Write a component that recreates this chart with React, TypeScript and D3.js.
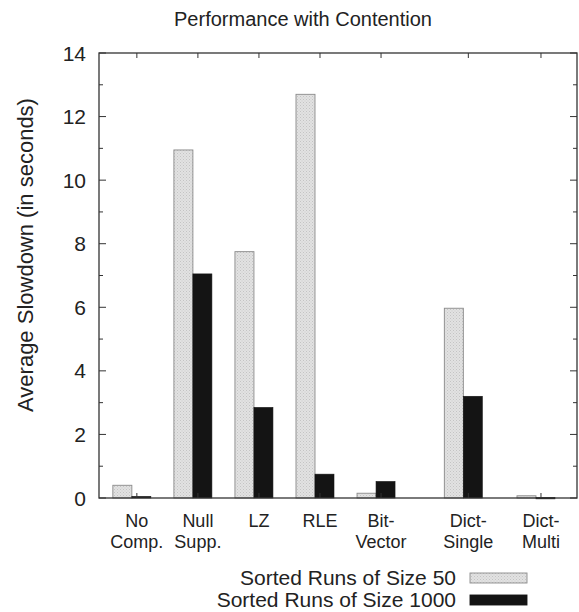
import React from "react";
import * as d3 from "d3";

const categories: string[][] = [
  ["No", "Comp."],
  ["Null", "Supp."],
  ["LZ"],
  ["RLE"],
  ["Bit-", "Vector"],
  ["Dict-", "Single"],
  ["Dict-", "Multi"],
];
const categoryPositions = [0, 1, 2, 3, 4, 5.43, 6.62];
const size50 = [0.4, 10.95, 7.75, 12.7, 0.15, 5.97, 0.07];
const size1000 = [0.05, 7.05, 2.85, 0.75, 0.52, 3.2, 0.02];
const seriesNames = ["Sorted Runs of Size 50", "Sorted Runs of Size 1000"];
const yTicks = [0, 2, 4, 6, 8, 10, 12, 14];
const yMinorTicks = d3.range(0, 15, 1);

const W = 579;
const H = 612;
const left = 99, right = 577, top = 53, bottom = 498;
const font = "'Liberation Sans', Arial, Helvetica, sans-serif";

export default function App() {
  const x = d3.scaleLinear().domain([-0.62, 7.21]).range([left, right]);
  const y = d3.scaleLinear().domain([0, 14]).range([bottom, top]);
  const bw = 19;
  const shift = -5;

  return (
    <svg width={W} height={H} style={{ position: "absolute", left: 0, top: 0, background: "#fff" }}>
      <defs>
        <pattern id="stip" width="3" height="3" patternUnits="userSpaceOnUse">
          <rect width="3" height="3" fill="#e2e2e2" />
          <rect x="0" y="0" width="1" height="1" fill="#c4c4c4" />
          <rect x="1.5" y="1.5" width="1" height="1" fill="#cdcdcd" />
        </pattern>
      </defs>
      <text x={303} y={26} textAnchor="middle" fontFamily={font} fontSize={20} fill="#222">
        Performance with Contention
      </text>
      {/* bars */}
      {categoryPositions.map((p, i) => {
        const c = x(p) + shift;
        return (
          <g key={i}>
            <rect x={c - bw} y={y(size50[i])} width={bw} height={y(0) - y(size50[i])}
              fill="url(#stip)" stroke="#8a8a8a" strokeWidth={0.9} />
            <rect x={c} y={y(size1000[i])} width={bw} height={Math.max(1.5, y(0) - y(size1000[i]))}
              fill="#141414" stroke="#141414" strokeWidth={0.6} />
          </g>
        );
      })}
      {/* frame */}
      <rect x={left} y={top} width={right - left} height={bottom - top} fill="none" stroke="#333" strokeWidth={1.3} />
      {/* y ticks */}
      {yMinorTicks.map((t) => {
        const len = t % 2 === 0 ? 7 : 4;
        return (
          <g key={t}>
            <line x1={left} x2={left + len} y1={y(t)} y2={y(t)} stroke="#333" strokeWidth={1} />
            <line x1={right} x2={right - len} y1={y(t)} y2={y(t)} stroke="#333" strokeWidth={1} />
          </g>
        );
      })}
      {yTicks.map((t) => (
        <text key={t} x={86} y={y(t) + 7.5} textAnchor="end" fontFamily={font} fontSize={21} fill="#222">
          {t}
        </text>
      ))}
      {/* x ticks (top and bottom mirror) */}
      {categoryPositions.map((p, i) => (
        <g key={i}>
          <line x1={x(p)} x2={x(p)} y1={top} y2={top + 5} stroke="#333" strokeWidth={1} />
          <line x1={x(p)} x2={x(p)} y1={bottom} y2={bottom - 5} stroke="#333" strokeWidth={1} />
        </g>
      ))}
      {categories.map((lines, i) =>
        lines.map((l, j) => (
          <text key={`${i}-${j}`} x={x(categoryPositions[i])} y={527 + j * 21} textAnchor="middle"
            fontFamily={font} fontSize={18} fill="#222">{l}</text>
        ))
      )}
      <text transform={`translate(33,255) rotate(-90)`} textAnchor="middle" fontFamily={font} fontSize={22} fill="#222">
        Average Slowdown (in seconds)
      </text>
      {/* legend */}
      {seriesNames.map((s, i) => (
        <g key={i}>
          <text x={456} y={585 + i * 22} textAnchor="end" fontFamily={font} fontSize={21} fill="#222">{s}</text>
          <rect x={470} y={573 + i * 22} width={57} height={10}
            fill={i === 0 ? "url(#stip)" : "#141414"} stroke={i === 0 ? "#8a8a8a" : "#141414"} strokeWidth={0.9} />
        </g>
      ))}
    </svg>
  );
}
